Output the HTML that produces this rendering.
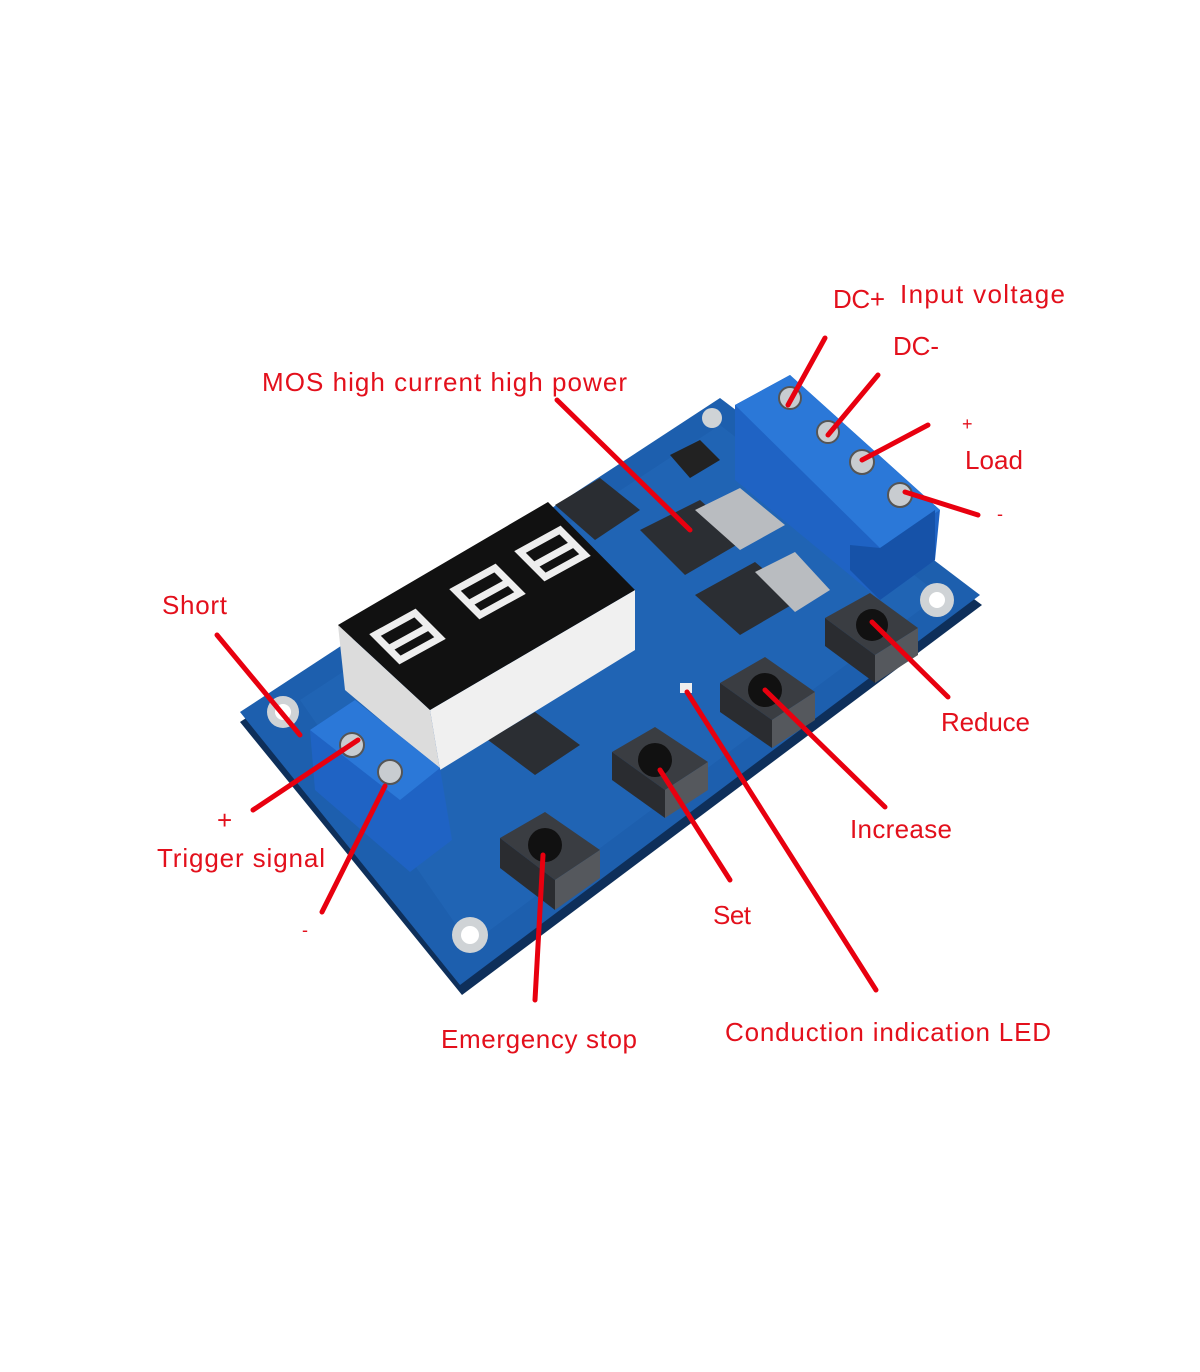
<!DOCTYPE html>
<html><head><meta charset="utf-8"><style>
html,body{margin:0;padding:0;background:#fff;}
svg{display:block;}
text{font-family:"Liberation Sans",sans-serif;fill:#e3101c;font-size:26px;}
</style></head><body>
<svg width="1200" height="1372" viewBox="0 0 1200 1372" xmlns="http://www.w3.org/2000/svg">
<polygon points="240,722 720,410 982,605 462,995" fill="#0e2f5a"/>
<polygon points="240,712 720,398 980,595 460,985" fill="#1d5fae"/>
<polygon points="300,700 720,425 940,595 470,945" fill="#2367b8" opacity="0.6"/>
<circle cx="283" cy="712" r="16" fill="#cfd3d6"/><circle cx="283" cy="712" r="8" fill="#fff"/>
<circle cx="470" cy="935" r="18" fill="#cfd3d6"/><circle cx="470" cy="935" r="9" fill="#fff"/>
<circle cx="937" cy="600" r="17" fill="#cfd3d6"/><circle cx="937" cy="600" r="8" fill="#fff"/>
<circle cx="712" cy="418" r="10" fill="#cfd3d6"/>
<polygon points="555,505 600,478 640,510 595,540" fill="#2a2d32"/>
<polygon points="640,530 700,500 745,540 685,575" fill="#2b2e33"/>
<polygon points="695,510 740,488 785,525 740,550" fill="#b9bcc0"/>
<polygon points="695,595 755,562 800,600 740,635" fill="#2b2e33"/>
<polygon points="755,572 795,552 830,590 795,612" fill="#b9bcc0"/>
<polygon points="670,455 700,440 720,460 690,478" fill="#222"/>
<polygon points="488,740 535,712 580,745 535,775" fill="#2b2e33"/>
<polygon points="430,710 635,590 635,650 440,770" fill="#f0f0f0"/>
<polygon points="338,625 430,710 440,770 345,690" fill="#dcdcdc"/>
<polygon points="338,625 548,502 635,590 430,710" fill="#111"/>
<g fill="none" stroke="#eee" stroke-width="7">
<path d="M375,635 l40,-22 l25,25 l-40,22 z M390,648 l40,-22"/>
<path d="M455,590 l40,-22 l25,25 l-40,22 z M470,603 l40,-22"/>
<path d="M520,552 l40,-22 l25,25 l-40,22 z M535,565 l40,-22"/>
</g>
<polygon points="735,405 790,375 940,510 935,560 880,600 735,480" fill="#1f63c4"/>
<polygon points="735,405 790,375 940,510 880,548" fill="#2b78d8"/>
<polygon points="850,545 880,548 935,510 935,560 880,600 850,570" fill="#1652a8"/>
<g fill="#c8ccd0" stroke="#555" stroke-width="2">
<circle cx="790" cy="398" r="11"/><circle cx="828" cy="432" r="11"/><circle cx="862" cy="462" r="12"/><circle cx="900" cy="495" r="12"/>
</g>
<polygon points="310,730 355,700 440,768 452,840 410,872 315,790" fill="#1f63c4"/>
<polygon points="310,730 355,700 440,768 400,800" fill="#2b78d8"/>
<g fill="#c8ccd0" stroke="#555" stroke-width="2">
<circle cx="352" cy="745" r="12"/><circle cx="390" cy="772" r="12"/>
</g>
<g>
<polygon points="500,838 545,812 600,850 555,880" fill="#3a3d42"/>
<polygon points="500,838 555,880 555,910 500,868" fill="#2a2c30"/><polygon points="555,880 600,850 600,878 555,910" fill="#55585d"/>
<circle cx="545" cy="845" r="17" fill="#111"/>
<polygon points="612,752 655,727 708,762 665,790" fill="#3a3d42"/>
<polygon points="612,752 665,790 665,818 612,780" fill="#2a2c30"/><polygon points="665,790 708,762 708,790 665,818" fill="#55585d"/>
<circle cx="655" cy="760" r="17" fill="#111"/>
<polygon points="720,683 765,657 815,692 772,720" fill="#3a3d42"/>
<polygon points="720,683 772,720 772,748 720,712" fill="#2a2c30"/><polygon points="772,720 815,692 815,720 772,748" fill="#55585d"/>
<circle cx="765" cy="690" r="17" fill="#111"/>
<polygon points="825,618 870,593 918,628 875,655" fill="#3a3d42"/>
<polygon points="825,618 875,655 875,683 825,646" fill="#2a2c30"/><polygon points="875,655 918,628 918,655 875,683" fill="#55585d"/>
<circle cx="872" cy="625" r="16" fill="#111"/>
</g>
<rect x="680" y="683" width="12" height="10" fill="#eee"/>
<g stroke="#e8000f" stroke-width="5" stroke-linecap="round">
<line x1="825" y1="338" x2="788" y2="405"/>
<line x1="878" y1="375" x2="828" y2="435"/>
<line x1="928" y1="425" x2="862" y2="460"/>
<line x1="978" y1="515" x2="905" y2="492"/>
<line x1="557" y1="400" x2="690" y2="530"/>
<line x1="217" y1="635" x2="300" y2="735"/>
<line x1="253" y1="810" x2="358" y2="740"/>
<line x1="322" y1="912" x2="385" y2="786"/>
<line x1="535" y1="1000" x2="543" y2="855"/>
<line x1="730" y1="880" x2="660" y2="770"/>
<line x1="876" y1="990" x2="687" y2="692"/>
<line x1="885" y1="807" x2="765" y2="690"/>
<line x1="948" y1="697" x2="872" y2="622"/>
</g>
<text x="833" y="308" textLength="52">DC+</text>
<text x="900" y="303" textLength="165">Input voltage</text>
<text x="893" y="355" textLength="46">DC-</text>
<text x="962" y="430" style="font-size:18px">+</text>
<text x="965" y="469" textLength="58">Load</text>
<text x="997" y="520" style="font-size:18px">-</text>
<text x="262" y="391" textLength="365">MOS high current high power</text>
<text x="162" y="614" textLength="65">Short</text>
<text x="217" y="829">+</text>
<text x="157" y="867" textLength="168">Trigger signal</text>
<text x="302" y="936" style="font-size:18px">-</text>
<text x="441" y="1048" textLength="196">Emergency stop</text>
<text x="713" y="924" textLength="38">Set</text>
<text x="725" y="1041" textLength="326">Conduction indication LED</text>
<text x="850" y="838" textLength="102">Increase</text>
<text x="941" y="731" textLength="89">Reduce</text>
</svg>
</body></html>
